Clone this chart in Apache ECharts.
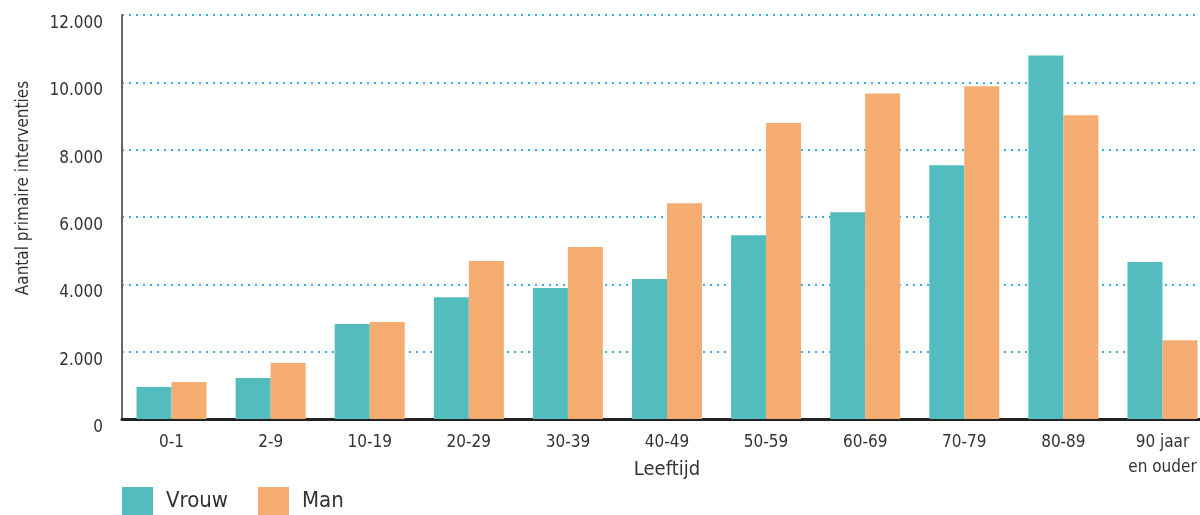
<!DOCTYPE html>
<html>
<head>
<meta charset="utf-8">
<script src="https://cdn.jsdelivr.net/npm/echarts@6/dist/echarts.min.js"></script>
<style>
  html, body { margin: 0; padding: 0; background: #fff; }
  #chart { width: 1200px; height: 515px; }
</style>
</head>
<body>
<div id="chart"></div>
<script>
// Leeftijdsgroepen
const categories = ['0-1', '2-9', '10-19', '20-29', '30-39', '40-49', '50-59', '60-69', '70-79', '80-89', '90 jaar\nen ouder'];
// Aantal primaire interventies per geslacht
const vrouw = [950, 1220, 2820, 3620, 3890, 4160, 5460, 6140, 7540, 10800, 4660];
const man = [1100, 1660, 2880, 4690, 5110, 6410, 8790, 9670, 9880, 9020, 2340];
// Y-as
const yMin = 0, yMax = 12000, yStep = 2000;

const FONT = '"DejaVu Sans Condensed", Roboto, sans-serif';
const TEXT = '#333333';

const fmt = v => String(v).replace(/\B(?=(\d{3})+(?!\d))/g, '.');

const chart = echarts.init(document.getElementById('chart'));
chart.setOption({
  animation: false,
  textStyle: { fontFamily: FONT },
  grid: { left: 122, right: -12, top: 15, bottom: 96, containLabel: false, outerBoundsMode: 'none' },
  legend: {
    data: ['Vrouw', 'Man'],
    left: 122, bottom: 0, padding: 0,
    itemWidth: 31, itemHeight: 28, itemGap: 30,
    icon: 'rect',
    textStyle: { fontSize: 22, color: TEXT, fontFamily: FONT, width: 70, padding: [10, 0, 0, 8] }
  },
  graphic: [{
    type: 'text',
    x: 24, y: 188,
    rotation: Math.PI / 2,
    style: {
      text: 'Aantal primaire interventies',
      fill: TEXT, fontSize: 17, fontFamily: FONT,
      align: 'center', verticalAlign: 'middle'
    }
  }],
  xAxis: {
    type: 'category',
    data: categories,
    name: 'Leeftijd',
    nameLocation: 'middle',
    nameGap: 41,
    nameMoveOverlap: false,
    nameTextStyle: { fontSize: 20, color: TEXT, fontFamily: FONT },
    axisLine: { lineStyle: { color: '#222', width: 3 } },
    axisTick: { show: false },
    axisLabel: { color: TEXT, fontSize: 17, lineHeight: 25, margin: 11, fontFamily: FONT, interval: 0 }
  },
  yAxis: {
    type: 'value',
    min: yMin, max: yMax, interval: yStep,
    axisLine: { show: true, lineStyle: { color: '#666', width: 2 } },
    axisTick: { show: false },
    axisLabel: { color: TEXT, fontSize: 17, margin: 19, fontFamily: FONT, formatter: fmt, verticalAlign: 'top' },
    splitLine: { show: true, lineStyle: { color: '#3aaee2', type: [2, 5], width: 2 } }
  },
  series: [
    { name: 'Vrouw', type: 'bar', data: vrouw, barWidth: 35, barGap: '0%', itemStyle: { color: '#52bcbe' } },
    { name: 'Man', type: 'bar', data: man, barWidth: 35, barGap: '0%', itemStyle: { color: '#f4ac70' } }
  ]
});
</script>
</body>
</html>
